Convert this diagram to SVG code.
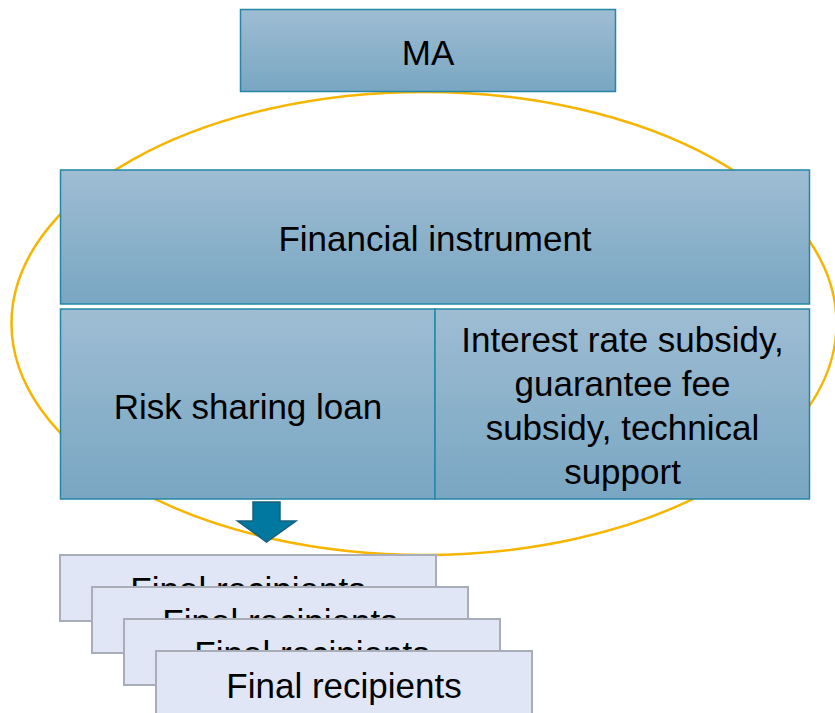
<svg xmlns="http://www.w3.org/2000/svg" width="835" height="713" viewBox="0 0 835 713">
<defs>
<linearGradient id="blueGrad" x1="0" y1="0" x2="0" y2="1">
<stop offset="0" stop-color="#9ebdd3"/>
<stop offset="1" stop-color="#79a6c2"/>
</linearGradient>
<clipPath id="clip1"><rect x="60" y="555" width="376" height="32"/></clipPath>
<clipPath id="clip2"><rect x="92" y="587" width="376" height="32"/></clipPath>
<clipPath id="clip3"><rect x="124" y="619" width="376" height="32"/></clipPath>
<style>
.box{fill:url(#blueGrad);stroke:#2586a6;stroke-width:1.5}
.rec{fill:#e0e6f5;stroke:#a9adb8;stroke-width:2}
.t{font-family:"Liberation Sans",Arial,sans-serif;font-size:35px;fill:#000;text-anchor:middle}
.ell{fill:none;stroke:#f7b500;stroke-width:2.5}
.arr{fill:#0078a0;stroke:#17607c;stroke-width:1.5}
</style>
</defs>
<rect width="835" height="713" fill="#ffffff"/>
<ellipse id="scope" class="ell" cx="424" cy="323.5" rx="412.5" ry="231.5"/>
<g id="ma">
<rect class="box" x="240.5" y="9.5" width="375" height="82"/>
<text class="t" x="428" y="65">MA</text>
</g>
<g id="financial-instrument">
<rect class="box" x="60.5" y="170" width="749" height="134"/>
<text class="t" x="435" y="251">Financial instrument</text>
</g>
<g id="risk-sharing-loan">
<rect class="box" x="60.5" y="309" width="374.5" height="190"/>
<text class="t" x="248" y="419">Risk sharing loan</text>
</g>
<g id="subsidies">
<rect class="box" x="435" y="309" width="374.5" height="190"/>
<text class="t" x="622.5" y="352">Interest rate subsidy,</text>
<text class="t" x="622.5" y="396">guarantee fee</text>
<text class="t" x="622.5" y="440">subsidy, technical</text>
<text class="t" x="622.5" y="484">support</text>
</g>
<g id="connectors">
<path class="arr" d="M253,502 H280 V521 H296 L266.5,542 L237.5,521 H253 Z"/>
</g>
<g id="final-recipients-1">
<rect class="rec" x="60" y="555" width="376" height="66"/>
<text class="t" x="248" y="602" clip-path="url(#clip1)">Final recipients</text>
</g>
<g id="final-recipients-2">
<rect class="rec" x="92" y="587" width="376" height="66"/>
<text class="t" x="280" y="634" clip-path="url(#clip2)">Final recipients</text>
</g>
<g id="final-recipients-3">
<rect class="rec" x="124" y="619" width="376" height="66"/>
<text class="t" x="312" y="666" clip-path="url(#clip3)">Final recipients</text>
</g>
<g id="final-recipients-4">
<rect class="rec" x="156" y="651" width="376" height="66"/>
<text class="t" x="344" y="698">Final recipients</text>
</g>
</svg>
